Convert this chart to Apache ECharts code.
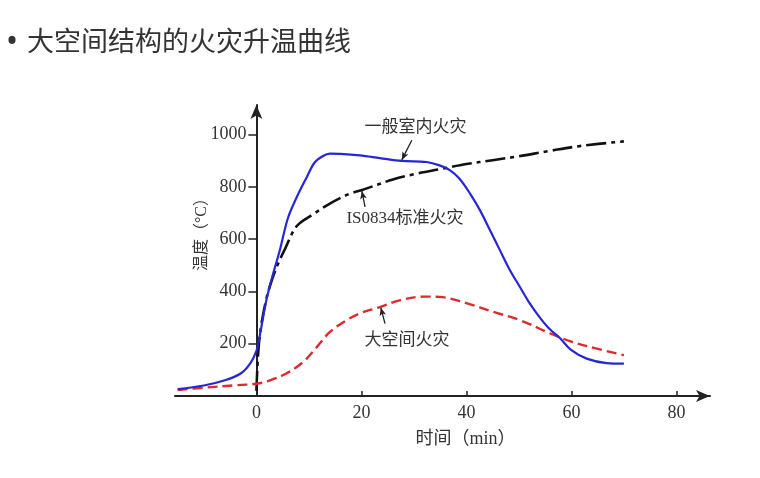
<!DOCTYPE html>
<html><head><meta charset="utf-8">
<script src="https://cdn.jsdelivr.net/npm/echarts@6/dist/echarts.min.js"></script>
<style>html,body{margin:0;padding:0;background:#fff}#c{width:760px;height:478px}</style>
</head><body><div id="c"></div>
<script>
// ---- data ----
const titleText = '大空间结构的火灾升温曲线';
const bulletText = '•';
const xName = '时间（min）';
const yName = '温度（°C）';
const xLabelValues = [0, 20, 40, 60, 80];
const xTickValues = [20, 40, 60, 80];
const yLabelValues = [200, 400, 600, 800, 1000];
const seriesNames = ['一般室内火灾', 'IS0834标准火灾', '大空间火灾'];

// 一般室内火灾 [time(min), temperature(°C)]
const indoorFire = [
  [-15, 26], [-10, 40], [-6, 60], [-3, 86], [-1.2, 124], [0, 172], [0.5, 215],
  [1.9, 366], [3.2, 468], [4.5, 560], [6, 680], [7.7, 761], [9.6, 837], [11.1, 893],
  [12.7, 918], [14, 927], [16, 926], [19.7, 920], [23.5, 910], [27.7, 899], [32.4, 895],
  [34.9, 882], [36.9, 863], [38.7, 831], [40.7, 774], [42.6, 710], [44.5, 634],
  [46.4, 557], [48.3, 481], [50.2, 417], [52.1, 353], [54, 300], [55.9, 255],
  [57.8, 222], [60, 175], [62.9, 143], [66.7, 126], [70, 124]
];
// IS0834标准火灾
const iso834Fire = [
  [0, 20], [0.4, 180], [1, 280], [2, 380], [2.9, 440], [4, 500], [5.4, 560],
  [7.7, 650], [10.8, 695], [14, 736], [17.8, 774], [20, 787], [26, 828], [30, 848],
  [35.6, 870], [40, 887], [45, 902], [50, 917], [56, 938], [62, 957], [70, 974]
];
// 大空间火灾
const largeSpaceFire = [
  [-15, 23], [-10, 32], [-4, 41], [0, 47], [2.6, 60], [5.7, 86], [8.9, 130],
  [11.5, 187], [14, 245], [17.2, 290], [19.7, 316], [23.5, 340], [27.3, 366],
  [31.8, 380], [34.9, 379], [40, 355], [45.1, 322], [50.2, 290], [55.9, 240],
  [59.7, 210], [63.5, 188], [70, 156]
];

// ---- chart ----
const serifFont = "'Liberation Serif', 'Noto Sans CJK SC', serif";
const annoText = { color: '#333', fontSize: 17, fontFamily: serifFont };
const leaderStyle = { color: '#222', width: 1.3, type: 'solid' };

const xMin = -15.5, xMax = 86.4;
const gridLeft = 175, gridWidth = 535;
// y axis drawn at x = 0 of the time axis
const yAxisOffset = -gridWidth * (0 - xMin) / (xMax - xMin);

function annotation(textPos, text, from, to) {
  return {
    markLine: {
      silent: true, animation: false,
      symbol: ['none', 'arrow'], symbolSize: [5, 8],
      lineStyle: leaderStyle,
      label: { show: false },
      emphasis: { disabled: true },
      data: [[{ coord: from }, { coord: to }]]
    },
    markPoint: {
      silent: true, animation: false,
      symbol: 'circle', symbolSize: 1,
      itemStyle: { color: 'rgba(0,0,0,0)' },
      label: Object.assign({ show: true, position: 'inside', formatter: text }, annoText),
      data: [{ coord: textPos }]
    }
  };
}

const chart = echarts.init(document.getElementById('c'), null, { renderer: 'canvas' });
chart.setOption({
  backgroundColor: '#fff',
  animation: false,
  title: {
    text: titleText, left: 27, top: 27, padding: 0,
    textStyle: { fontFamily: "'Noto Sans CJK SC', sans-serif", fontSize: 27, fontWeight: 'normal', color: '#333' }
  },
  graphic: [{
    type: 'text', x: 12, y: 43, silent: true,
    style: { text: bulletText, fontFamily: "'Noto Sans', sans-serif", fontSize: 32, fill: '#333', align: 'center', verticalAlign: 'middle' }
  }],
  grid: { left: gridLeft, top: 105, width: gridWidth, height: 291, containLabel: false },
  xAxis: {
    type: 'value', min: xMin, max: xMax,
    name: xName, nameLocation: 'middle', nameGap: 34, nameMoveOverlap: false,
    nameTextStyle: { fontFamily: serifFont, fontSize: 18, color: '#333', padding: [0, 0, 0, 46] },
    axisLine: { show: true, onZero: true, symbol: ['none', 'arrow'], symbolSize: [9, 14], lineStyle: { color: '#222', width: 2 } },
    axisTick: { show: true, inside: true, length: 5, customValues: xTickValues, lineStyle: { color: '#222', width: 1.5 } },
    axisLabel: { customValues: xLabelValues, margin: 8, fontFamily: serifFont, fontSize: 18, color: '#333', formatter: v => String(v) },
    splitLine: { show: false }
  },
  yAxis: {
    type: 'value', min: 0, max: 1113, offset: yAxisOffset,
    name: yName, nameLocation: 'middle', nameGap: 47, nameRotate: 90, nameMoveOverlap: false,
    nameTextStyle: { fontFamily: serifFont, fontSize: 16, color: '#333', padding: [0, 0, 0, 40] },
    axisLine: { show: true, onZero: false, symbol: ['none', 'arrow'], symbolSize: [9, 14], lineStyle: { color: '#222', width: 2 } },
    axisTick: { show: true, inside: false, length: 8, customValues: yLabelValues, lineStyle: { color: '#222', width: 1.5 } },
    axisLabel: { customValues: yLabelValues, margin: 10, fontFamily: serifFont, fontSize: 18, color: '#333', formatter: v => String(v) },
    splitLine: { show: false }
  },
  series: [
    Object.assign({
      name: seriesNames[0], type: 'line', data: indoorFire, showSymbol: false,
      smooth: 0.35, z: 3,
      lineStyle: { color: '#2626d6', width: 2.2 }
    }, annotation([30.3, 1027], seriesNames[0], [29.6, 978], [27.7, 903])),
    Object.assign({
      name: seriesNames[1], type: 'line', data: iso834Fire, showSymbol: false,
      smooth: 0.35, z: 2,
      lineStyle: { color: '#111', width: 2.6, type: [20, 5, 4, 5] }
    }, annotation([28.3, 680], seriesNames[1], [20.7, 723], [20.1, 784])),
    Object.assign({
      name: seriesNames[2], type: 'line', data: largeSpaceFire, showSymbol: false,
      smooth: 0.35, z: 2,
      lineStyle: { color: '#dd2a2a', width: 2.4, type: [10, 5] }
    }, annotation([28.7, 213], seriesNames[2], [24.5, 277], [23.7, 338]))
  ]
});
</script>
</body></html>
